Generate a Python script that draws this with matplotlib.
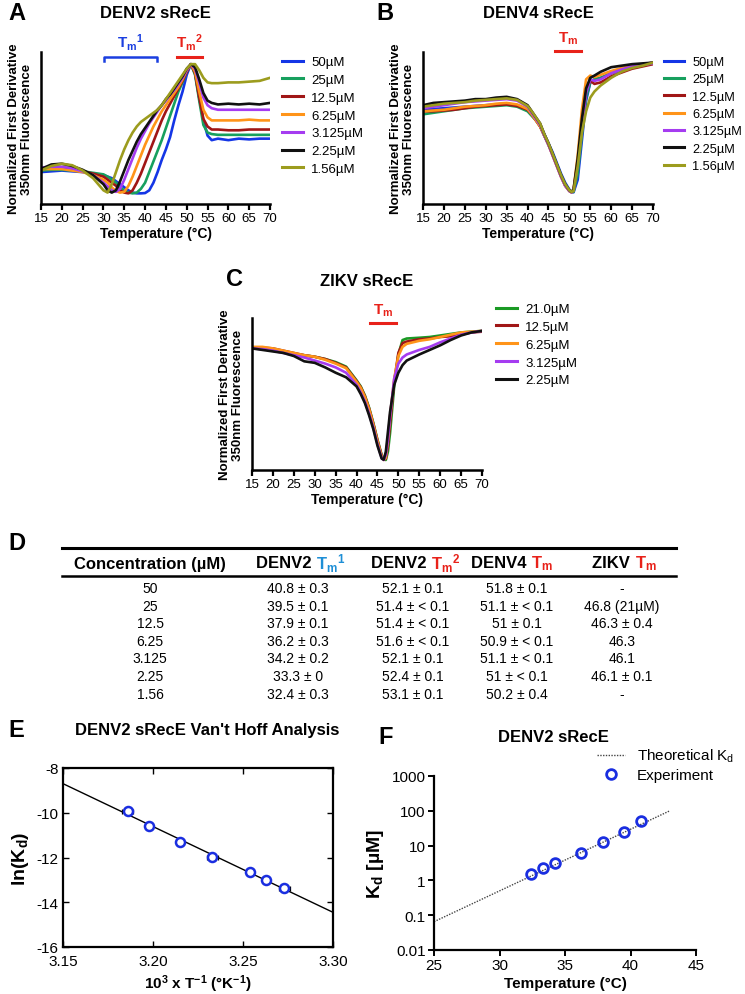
import matplotlib
matplotlib.use('Agg')
import matplotlib.pyplot as plt
from matplotlib.lines import Line2D
from matplotlib.ticker import FixedLocator, FixedFormatter, NullLocator

plt.rcParams['font.family'] = ['Liberation Sans', 'DejaVu Sans']
plt.rcParams['mathtext.fontset'] = 'custom'
plt.rcParams['mathtext.rm'] = 'Liberation Sans'
plt.rcParams['mathtext.it'] = 'Liberation Sans:italic'
plt.rcParams['mathtext.bf'] = 'Liberation Sans:bold'
plt.rcParams['axes.unicode_minus'] = False

# ---------------- data ----------------
conc_A = ['50µM', '25µM', '12.5µM', '6.25µM', '3.125µM', '2.25µM', '1.56µM']
colors_A = ['#1436e6', '#17a05e', '#a01616', '#ff9419', '#a53cf0', '#111111', '#9c9c1e']

tA = [15, 17.5, 20, 22.5, 25, 27.5, 30, 31, 32, 33, 34, 35, 36, 37, 38, 39, 40, 41, 42, 43,
      44, 45, 46, 47, 48, 49, 50, 51, 52, 53, 54, 55, 56, 57.5, 60, 62.5, 65, 67.5, 70]
denv2_50 = [0.21, 0.215, 0.22, 0.215, 0.21, 0.20, 0.19, 0.18, 0.17, 0.15, 0.13, 0.11, 0.09, 0.075, 0.07,
            0.07, 0.072, 0.09, 0.14, 0.21, 0.29, 0.36, 0.44, 0.55, 0.65, 0.74, 0.85, 0.92, 0.86, 0.70,
            0.55, 0.45, 0.42, 0.43, 0.42, 0.43, 0.425, 0.43, 0.43]
denv2_25 = [0.22, 0.225, 0.225, 0.22, 0.215, 0.205, 0.195, 0.18, 0.16, 0.14, 0.11, 0.09, 0.075, 0.07, 0.075,
            0.10, 0.14, 0.21, 0.28, 0.35, 0.42, 0.50, 0.58, 0.66, 0.74, 0.80, 0.87, 0.92, 0.85, 0.68,
            0.52, 0.47, 0.46, 0.455, 0.455, 0.455, 0.455, 0.455, 0.455]
denv2_12 = [0.23, 0.235, 0.235, 0.225, 0.215, 0.20, 0.18, 0.16, 0.14, 0.12, 0.09, 0.075, 0.07, 0.09, 0.14,
            0.20, 0.27, 0.34, 0.41, 0.48, 0.55, 0.61, 0.66, 0.71, 0.76, 0.81, 0.87, 0.92, 0.86, 0.70,
            0.56, 0.51, 0.49, 0.49, 0.485, 0.485, 0.49, 0.49, 0.49]
denv2_6 = [0.23, 0.23, 0.23, 0.22, 0.21, 0.19, 0.16, 0.14, 0.11, 0.085, 0.075, 0.08, 0.12, 0.18, 0.25,
           0.32, 0.39, 0.45, 0.51, 0.56, 0.61, 0.65, 0.69, 0.73, 0.77, 0.82, 0.88, 0.92, 0.87, 0.74,
           0.62, 0.57, 0.55, 0.55, 0.55, 0.55, 0.555, 0.55, 0.55]
denv2_3 = [0.24, 0.245, 0.245, 0.235, 0.215, 0.19, 0.14, 0.115, 0.09, 0.08, 0.10, 0.16, 0.23, 0.30, 0.37,
           0.43, 0.48, 0.53, 0.57, 0.61, 0.65, 0.68, 0.72, 0.75, 0.79, 0.83, 0.88, 0.92, 0.89, 0.80,
           0.70, 0.65, 0.63, 0.62, 0.62, 0.62, 0.62, 0.62, 0.62]
denv2_2 = [0.23, 0.26, 0.265, 0.25, 0.225, 0.19, 0.13, 0.09, 0.075, 0.09, 0.15, 0.22, 0.29, 0.35, 0.41,
           0.46, 0.50, 0.54, 0.58, 0.62, 0.65, 0.69, 0.72, 0.76, 0.80, 0.84, 0.89, 0.92, 0.90, 0.82,
           0.73, 0.68, 0.665, 0.655, 0.66, 0.655, 0.66, 0.655, 0.665]
denv2_1 = [0.22, 0.25, 0.265, 0.255, 0.22, 0.17, 0.09, 0.075, 0.13, 0.21, 0.29, 0.36, 0.42, 0.47, 0.51,
           0.54, 0.56, 0.58, 0.60, 0.62, 0.65, 0.69, 0.73, 0.77, 0.81, 0.85, 0.89, 0.92, 0.92, 0.88,
           0.83, 0.80, 0.795, 0.795, 0.80, 0.80, 0.805, 0.81, 0.83]
denv2_curves = [denv2_50, denv2_25, denv2_12, denv2_6, denv2_3, denv2_2, denv2_1]

tB = [15, 17.5, 20, 22.5, 25, 27.5, 30, 32.5, 35, 37.5, 40, 41, 42, 43, 44, 45, 46, 47, 48, 49, 50,
      50.5, 51, 52, 53, 54, 55, 56, 57.5, 60, 62.5, 65, 67.5, 70]
denv4_50 = [0.62, 0.625, 0.63, 0.635, 0.64, 0.645, 0.65, 0.655, 0.66, 0.65, 0.62,
            0.59, 0.56, 0.52, 0.46, 0.40, 0.34, 0.27, 0.20, 0.14, 0.095, 0.08, 0.077, 0.16,
            0.42, 0.68, 0.80, 0.82, 0.83, 0.86, 0.885, 0.905, 0.92, 0.93]
denv4_25 = [0.59, 0.60, 0.61, 0.62, 0.63, 0.635, 0.64, 0.645, 0.65, 0.64, 0.61,
            0.58, 0.55, 0.51, 0.45, 0.39, 0.33, 0.26, 0.19, 0.13, 0.09, 0.078, 0.08, 0.20,
            0.46, 0.70, 0.80, 0.82, 0.83, 0.86, 0.88, 0.90, 0.915, 0.925]
denv4_12 = [0.61, 0.61, 0.615, 0.62, 0.63, 0.64, 0.645, 0.65, 0.655, 0.645, 0.62,
            0.59, 0.55, 0.51, 0.45, 0.39, 0.32, 0.25, 0.18, 0.12, 0.085, 0.077, 0.09, 0.28,
            0.53, 0.75, 0.81, 0.79, 0.80, 0.84, 0.865, 0.89, 0.905, 0.92]
denv4_6 = [0.61, 0.615, 0.62, 0.63, 0.64, 0.645, 0.65, 0.66, 0.665, 0.655, 0.625,
           0.59, 0.55, 0.51, 0.45, 0.39, 0.32, 0.25, 0.18, 0.12, 0.085, 0.077, 0.095, 0.32,
           0.62, 0.82, 0.845, 0.835, 0.85, 0.875, 0.895, 0.91, 0.92, 0.93]
denv4_3 = [0.63, 0.64, 0.65, 0.66, 0.67, 0.675, 0.68, 0.685, 0.69, 0.68, 0.64,
           0.60, 0.56, 0.52, 0.45, 0.39, 0.32, 0.25, 0.18, 0.12, 0.085, 0.077, 0.09, 0.26,
           0.50, 0.73, 0.82, 0.81, 0.82, 0.86, 0.885, 0.905, 0.915, 0.925]
denv4_2 = [0.65, 0.665, 0.67, 0.675, 0.68, 0.69, 0.69, 0.70, 0.705, 0.69, 0.65,
           0.61, 0.57, 0.53, 0.46, 0.40, 0.33, 0.26, 0.19, 0.13, 0.09, 0.08, 0.095, 0.30,
           0.56, 0.76, 0.83, 0.845, 0.87, 0.90, 0.91, 0.92, 0.925, 0.93]
denv4_1 = [0.64, 0.65, 0.66, 0.665, 0.67, 0.68, 0.685, 0.69, 0.695, 0.685, 0.645,
           0.61, 0.57, 0.53, 0.46, 0.40, 0.33, 0.26, 0.19, 0.13, 0.09, 0.08, 0.085, 0.25,
           0.47, 0.61, 0.70, 0.74, 0.78, 0.83, 0.87, 0.895, 0.91, 0.93]
denv4_curves = [denv4_50, denv4_25, denv4_12, denv4_6, denv4_3, denv4_2, denv4_1]

conc_C = ['21.0µM', '12.5µM', '6.25µM', '3.125µM', '2.25µM']
colors_C = ['#1a9a24', '#a01616', '#ff9419', '#a53cf0', '#111111']
tC = [15, 17.5, 20, 22.5, 25, 27.5, 30, 32.5, 35, 37.5, 40, 41, 42, 43, 44, 45, 46, 46.5, 47, 47.5,
      48, 49, 50, 51, 52, 55, 57.5, 60, 62.5, 65, 67.5, 70]
zikv_21 = [0.80, 0.80, 0.795, 0.78, 0.765, 0.755, 0.745, 0.73, 0.71, 0.68, 0.59,
           0.55, 0.49, 0.41, 0.31, 0.20, 0.10, 0.07, 0.066, 0.12, 0.24, 0.55, 0.76, 0.855, 0.865,
           0.87, 0.875, 0.885, 0.895, 0.905, 0.91, 0.915]
zikv_12 = [0.80, 0.805, 0.80, 0.785, 0.77, 0.755, 0.745, 0.73, 0.705, 0.675, 0.585,
           0.545, 0.485, 0.405, 0.305, 0.195, 0.095, 0.068, 0.075, 0.16, 0.30, 0.58, 0.77, 0.835, 0.845,
           0.86, 0.865, 0.875, 0.88, 0.895, 0.905, 0.91]
zikv_6 = [0.81, 0.81, 0.80, 0.785, 0.77, 0.755, 0.745, 0.725, 0.70, 0.67, 0.58,
          0.54, 0.48, 0.40, 0.30, 0.19, 0.09, 0.066, 0.08, 0.20, 0.35, 0.60, 0.75, 0.81, 0.83,
          0.85, 0.86, 0.875, 0.89, 0.905, 0.91, 0.915]
zikv_3 = [0.80, 0.795, 0.785, 0.77, 0.755, 0.74, 0.72, 0.70, 0.675, 0.64, 0.56,
          0.51, 0.45, 0.37, 0.28, 0.17, 0.08, 0.066, 0.10, 0.20, 0.35, 0.60, 0.70, 0.74, 0.76,
          0.79, 0.81, 0.84, 0.865, 0.89, 0.905, 0.915]
zikv_2 = [0.80, 0.79, 0.78, 0.77, 0.75, 0.715, 0.705, 0.675, 0.64, 0.61, 0.55,
          0.50, 0.44, 0.36, 0.27, 0.16, 0.075, 0.068, 0.12, 0.25, 0.38, 0.56, 0.64, 0.69, 0.72,
          0.76, 0.79, 0.82, 0.855, 0.885, 0.905, 0.915]
zikv_curves = [zikv_21, zikv_12, zikv_6, zikv_3, zikv_2]

tm1_span_A = [30.2, 42.9]
tm2_span_A = [47.7, 53.7]
tm_span_B = [46.6, 52.8]
tm_span_C = [43.2, 49.4]

# Table
table_conc = ['50', '25', '12.5', '6.25', '3.125', '2.25', '1.56']
table_denv2_tm1 = ['40.8 ± 0.3', '39.5 ± 0.1', '37.9 ± 0.1', '36.2 ± 0.3', '34.2 ± 0.2', '33.3 ± 0', '32.4 ± 0.3']
table_denv2_tm2 = ['52.1 ± 0.1', '51.4 ± < 0.1', '51.4 ± < 0.1', '51.6 ± < 0.1', '52.1 ± 0.1', '52.4 ± 0.1', '53.1 ± 0.1']
table_denv4_tm = ['51.8 ± 0.1', '51.1 ± < 0.1', '51 ± 0.1', '50.9 ± < 0.1', '51.1 ± < 0.1', '51 ± < 0.1', '50.2 ± 0.4']
table_zikv_tm = ['-', '46.8 (21µM)', '46.3 ± 0.4', '46.3', '46.1', '46.1 ± 0.1', '-']

# Van't Hoff (E)
vh_x = [3.186, 3.198, 3.215, 3.233, 3.254, 3.263, 3.273]
vh_y = [-9.90, -10.60, -11.29, -11.98, -12.67, -13.00, -13.37]
vh_xerr = [0.003, 0.001, 0.001, 0.003, 0.002, 0.0005, 0.003]
vh_fit_x = [3.15, 3.30]
vh_fit_y = [-8.7, -14.45]

# Kd vs temperature (F)
kd_temp = [32.4, 33.3, 34.2, 36.2, 37.9, 39.5, 40.8]
kd_uM = [1.56, 2.25, 3.125, 6.25, 12.5, 25, 50]
kd_theory_t = [25, 43]
kd_theory = [0.065, 100]

# ---------------- figure ----------------
W, H = 745, 995
fig = plt.figure(figsize=(7.45, 9.95), dpi=100)


def fx(x):
    return x / W


def fy(y):
    return 1 - y / H


def box(l, t, r, b):
    return [l / W, 1 - b / H, (r - l) / W, (b - t) / H]


BLUE_T = '#1a3ee0'
RED_T = '#e8221a'


def melt_axes(rect):
    ax = fig.add_axes(rect)
    ax.set_xlim(15, 70)
    ax.set_ylim(0, 1)
    for s in ['top', 'right']:
        ax.spines[s].set_visible(False)
    for s in ['left', 'bottom']:
        ax.spines[s].set_linewidth(1.8)
    ax.set_xticks(range(15, 71, 5))
    ax.tick_params(axis='x', direction='out', length=4, width=1.6, labelsize=9.5, pad=2)
    ax.yaxis.set_major_locator(NullLocator())
    ax.set_xlabel('Temperature (°C)', fontsize=10, fontweight='bold', labelpad=1)
    ax.set_ylabel('Normalized First Derivative\n350nm Fluorescence', fontsize=9.5,
                  fontweight='bold', labelpad=6, linespacing=1.05)
    return ax


def add_legend(ax, labels, colors, x, y, fs=9.5):
    handles = [Line2D([], [], color=c, lw=2.2) for c in colors]
    ax.legend(handles, labels, loc='upper left', bbox_to_anchor=(fx(x), fy(y)),
              bbox_transform=fig.transFigure, frameon=False, fontsize=fs,
              handlelength=1.6, handletextpad=0.6, labelspacing=0.42, borderpad=0, borderaxespad=0)


TM1 = r'$\mathbf{T_m{}^1}$'
TM2 = r'$\mathbf{T_m{}^2}$'
TM = r'$\mathbf{T_m}$'

# ---- Panel A ----
axA = melt_axes(box(41, 53, 270, 205))
for ys, c in zip(denv2_curves, colors_A):
    axA.plot(tA, ys, color=c, lw=1.9)
axA.plot([tm1_span_A[0], tm1_span_A[0], tm1_span_A[1], tm1_span_A[1]], [0.94, 0.967, 0.967, 0.94],
         color=BLUE_T, lw=1.8, clip_on=False)
axA.plot(tm2_span_A, [0.967, 0.967], color=RED_T, lw=2.2, clip_on=False)
axA.text(sum(tm1_span_A) / 2, 1.0, TM1, color=BLUE_T, fontsize=11, ha='center', va='bottom')
axA.text(sum(tm2_span_A) / 2, 1.0, TM2, color=RED_T, fontsize=11, ha='center', va='bottom')
add_legend(axA, conc_A, colors_A, 282, 57)
fig.text(fx(8), fy(13), 'A', fontsize=17, fontweight='bold', va='center', ha='left')
fig.text(fx(155), fy(13), 'DENV2 sRecE', fontsize=12, fontweight='bold', va='center', ha='center')

# ---- Panel B ----
axB = melt_axes(box(423, 53, 653, 205))
for ys, c in zip(denv4_curves, colors_A):
    axB.plot(tB, ys, color=c, lw=1.9)
axB.plot(tm_span_B, [1.005, 1.005], color=RED_T, lw=2.2, clip_on=False)
axB.text(sum(tm_span_B) / 2, 1.04, TM, color=RED_T, fontsize=11, ha='center', va='bottom')
add_legend(axB, conc_A, colors_A, 664, 57, fs=9.2)
fig.text(fx(376), fy(13), 'B', fontsize=17, fontweight='bold', va='center', ha='left')
fig.text(fx(538), fy(13), 'DENV4 sRecE', fontsize=12, fontweight='bold', va='center', ha='center')

# ---- Panel C ----
axC = melt_axes(box(252, 319, 482, 471))
for ys, c in zip(zikv_curves, colors_C):
    axC.plot(tC, ys, color=c, lw=1.9)
axC.plot(tm_span_C, [0.965, 0.965], color=RED_T, lw=2.2, clip_on=False)
axC.text(sum(tm_span_C) / 2, 1.0, TM, color=RED_T, fontsize=11, ha='center', va='bottom')
add_legend(axC, conc_C, colors_C, 496, 304)
fig.text(fx(226), fy(280), 'C', fontsize=17, fontweight='bold', va='center', ha='left')
fig.text(fx(367), fy(282), 'ZIKV sRecE', fontsize=12, fontweight='bold', va='center', ha='center')

# ---- Panel D (table) ----
fig.text(fx(8), fy(543), 'D', fontsize=17, fontweight='bold', va='center', ha='left')
fig.add_artist(Line2D([fx(62), fx(676)], [fy(549), fy(549)], color='black', lw=2.2))
fig.add_artist(Line2D([fx(62), fx(676)], [fy(577), fy(577)], color='black', lw=1.8))
TBL_BLUE = '#1e8fd6'
hy = fy(564)
fig.text(fx(150), hy, 'Concentration (µM)', fontsize=12, fontweight='bold', ha='center', va='center')
col_x = [298, 413, 517, 622]
hdr_names = ['DENV2 ', 'DENV2 ', 'DENV4 ', 'ZIKV ']
hdr_tm = [TM1, TM2, TM, TM]
hdr_col = [TBL_BLUE, RED_T, RED_T, RED_T]
hdr_split = [18, 18, 14, 13]
for cx, nm, tm, cc, sp in zip(col_x, hdr_names, hdr_tm, hdr_col, hdr_split):
    fig.text(fx(cx + sp), hy, nm, fontsize=12, fontweight='bold', ha='right', va='center')
    fig.text(fx(cx + sp), hy, tm, fontsize=12, color=cc, ha='left', va='center')
cols = [table_conc, table_denv2_tm1, table_denv2_tm2, table_denv4_tm, table_zikv_tm]
xs = [150] + col_x
for i in range(len(table_conc)):
    y = fy(589 + 17.6 * i)
    for cx, col in zip(xs, cols):
        fig.text(fx(cx), y, col[i], fontsize=10, ha='center', va='center')

# ---- Panel E ----
axE = fig.add_axes(box(63, 769, 333, 948))
axE.plot(vh_fit_x, vh_fit_y, color='black', lw=1.0)
axE.errorbar(vh_x, vh_y, xerr=vh_xerr, fmt='none', ecolor='black', elinewidth=0.9,
             capsize=1.8, capthick=0.9, zorder=3)
axE.plot(vh_x, vh_y, 'o', mfc='white', mec='#1a2ee0', mew=1.8, ms=6.5, zorder=4)
axE.set_xlim(3.15, 3.30)
axE.set_ylim(-16, -8)
axE.set_xticks([3.15, 3.20, 3.25, 3.30])
axE.set_xticklabels(['3.15', '3.20', '3.25', '3.30'])
axE.set_yticks([-16, -14, -12, -10, -8])
axE.tick_params(direction='in', length=4, width=1.0, labelsize=11, top=True, right=True, pad=3)
axE.tick_params(axis='x', pad=5)
for s in axE.spines.values():
    s.set_linewidth(1.6)
axE.set_xlabel(r'$\mathbf{10^3}$ x T$^{\mathbf{-1}}$ (°K$^{\mathbf{-1}}$)', fontsize=11, fontweight='bold', labelpad=3)
axE.set_ylabel(r'ln(K$_\mathbf{d}$)', fontsize=14, fontweight='bold', labelpad=4)
fig.text(fx(8), fy(731), 'E', fontsize=17, fontweight='bold', va='center', ha='left')
fig.text(fx(207), fy(731), "DENV2 sRecE Van't Hoff Analysis", fontsize=12, fontweight='bold',
         va='center', ha='center')

# ---- Panel F ----
axF = fig.add_axes(box(434, 777, 696, 951))
axF.semilogy(kd_theory_t, kd_theory, color='#444444', lw=1.0, ls=(0, (1, 1)), label=r'Theoretical K$_\mathregular{d}$')
axF.plot(kd_temp, kd_uM, 'o', mfc='none', mec='#1a2ee0', mew=2.0, ms=7, label='Experiment')
axF.set_xlim(25, 45)
axF.set_ylim(0.01, 1000)
axF.set_xticks([25, 30, 35, 40, 45])
axF.yaxis.set_major_locator(FixedLocator([0.01, 0.1, 1, 10, 100, 1000]))
axF.yaxis.set_major_formatter(FixedFormatter(['0.01', '0.1', '1', '10', '100', '1000']))
axF.yaxis.set_minor_locator(NullLocator())
for s in ['top', 'right']:
    axF.spines[s].set_visible(False)
for s in ['left', 'bottom']:
    axF.spines[s].set_linewidth(1.6)
axF.tick_params(direction='out', length=4, width=1.4, labelsize=11, pad=2)
axF.set_xlabel('Temperature (°C)', fontsize=11, fontweight='bold', labelpad=3)
axF.set_ylabel(r'K$_\mathbf{d}$ [µM]', fontsize=14, fontweight='bold', labelpad=4)
axF.legend(loc='upper right', bbox_to_anchor=(fx(734), fy(748)), bbox_transform=fig.transFigure,
           frameon=False, fontsize=11, handlelength=1.8, handletextpad=0.8, labelspacing=0.25,
           borderpad=0, borderaxespad=0)
fig.text(fx(378), fy(738), 'F', fontsize=17, fontweight='bold', va='center', ha='left')
fig.text(fx(553), fy(738), 'DENV2 sRecE', fontsize=12, fontweight='bold', va='center', ha='center')

fig.savefig('out.png', dpi=100)
